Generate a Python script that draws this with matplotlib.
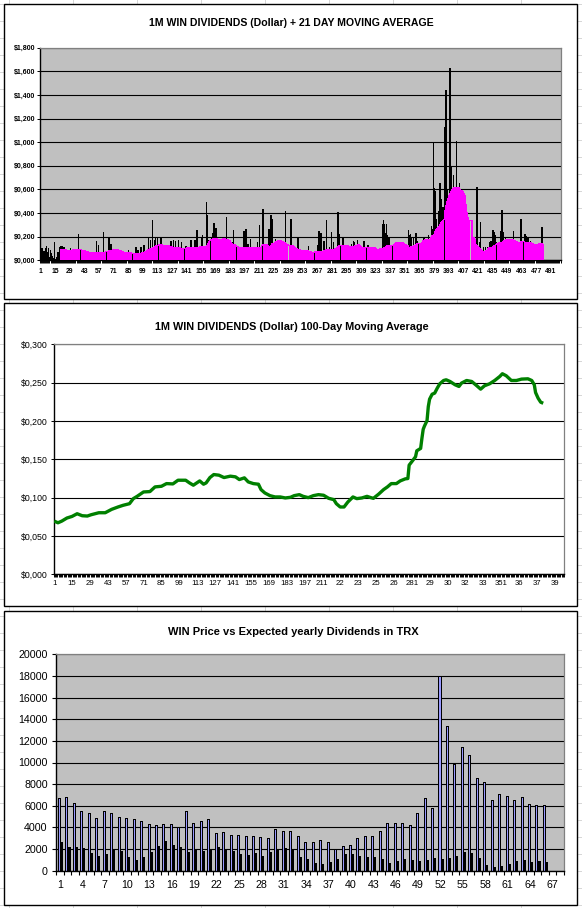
import numpy as np
import matplotlib
matplotlib.use("Agg")
import matplotlib.pyplot as plt
from matplotlib.ticker import FuncFormatter
from matplotlib.lines import Line2D
from matplotlib.patches import Rectangle

plt.rcParams['font.family'] = ['Liberation Sans', 'DejaVu Sans']

# ------------------------------------------------------------------ data
# Panel 1: daily dividend per 1M WIN (USD), day 1 .. 483
daily_div = [
    .09, .10, .05, .08, .10, .12, .07, .10, .03, .09,
    .06, .04, .02, .155, .01, .03, .07, .04, .11, .12,
    .125, .07, .115, .06, .08, .07, .09, .05, .10, .07,
    .06, .08, .07, .09, .06, .08, .226, .07, .06, .07,
    .05, .06, .07, .05, .06, .05, .06, .04, .05, .06,
    .05, .04, .06, .16, .05, .127, .04, .05, .06, .04,
    .237, .05, .06, .07, .05, .192, .13, .14, .07, .06,
    .07, .08, .07, .06, .07, .08, .06, .05, .07, .06,
    .05, .06, .04, .05, .085, .05, .04, .05, .04, .05,
    .04, .11, .04, .09, .04, .05, .11, .05, .06, .127,
    .06, .07, .08, .19, .08, .17, .09, .345, .10, .17,
    .19, .11, .19, .12, .10, .19, .11, .12, .10, .11,
    .10, .11, .09, .10, .10, .16, .09, .17, .10, .16,
    .09, .10, .175, .09, .08, .155, .09, .08, .09, .12,
    .09, .08, .09, .10, .17, .09, .10, .08, .175, .10,
    .254, .09, .10, .10, .20, .218, .09, .10, .09, .49,
    .384, .175, .14, .15, .20, .23, .316, .25, .277, .15,
    .16, .15, .14, .16, .15, .17, .15, .14, .367, .16,
    .15, .14, .13, .12, .155, .254, .12, .11, .10, .09,
    .10, .09, .10, .11, .10, .246, .155, .263, .10, .14,
    .10, .178, .10, .09, .10, .09, .10, .09, .155, .09,
    .297, .09, .08, .438, .11, .12, .11, .133, .11, .263,
    .10, .381, .353, .12, .13, .184, .13, .14, .15, .14,
    .15, .14, .13, .14, .13, .415, .11, .12, .11, .10,
    .347, .11, .10, .10, .09, .08, .107, .19, .08, .07,
    .07, .06, .07, .06, .07, .06, .07, .119, .06, .06,
    .05, .06, .05, .06, .06, .06, .127, .246, .06, .234,
    .06, .07, .164, .07, .339, .07, .08, .113, .08, .24,
    .08, .155, .08, .09, .09, .407, .226, .11, .10, .11,
    .198, .11, .10, .11, .10, .11, .10, .10, .136, .10,
    .164, .155, .10, .11, .17, .11, .12, .10, .10, .09,
    .164, .09, .10, .09, .127, .10, .09, .10, .09, .10,
    .09, .08, .09, .08, .07, .10, .08, .09, .31, .345,
    .31, .23, .308, .21, .19, .12, .11, .12, .11, .12,
    .12, .13, .14, .13, .14, .13, .14, .13, .13, .12,
    .11, .12, .11, .26, .21, .223, .195, .11, .195, .12,
    .232, .167, .12, .13, .12, .13, .12, .14, .195, .15,
    .16, .15, .21, .16, .17, .294, .266, .99, .61, .59,
    .35, .27, .42, .653, .52, .435, .45, .30, 1.127, 1.438,
    .60, .40, .45, 1.63, .80, .50, .723, .55, .535, 1.006,
    .60, .55, .658, .50, .576, .52, .548, .50, .44, .38,
    .33, .30, .31, .30, .32, .17, .16, .15, .12, .619,
    .10, .153, .322, .09, .08, .11, .07, .11, .07, .11,
    .09, .153, .167, .09, .26, .243, .21, .153, .12, .12,
    .13, .14, .25, .427, .237, .14, .195, .15, .16, .15,
    .16, .17, .16, .15, .25, .15, .14, .167, .14, .13,
    .14, .35, .14, .153, .14, .223, .209, .13, .195, .13,
    .167, .13, .12, .12, .12, .138, .12, .12, .11, .12,
    .12, .285, .12,
]

# Panel 1: 21-day moving average, day 21 .. 483
ma21_first_day = 21
ma21 = [
    .085, .086, .085, .084, .083, .081, .079, .079, .080, .081,
    .082, .082, .083, .083, .084, .085, .087, .086, .084, .080,
    .078, .076, .075, .073, .071, .068, .065, .063, .062, .061,
    .060, .060, .060, .060, .060, .060, .059, .059, .059, .059,
    .060, .062, .066, .070, .072, .074, .076, .078, .080, .082,
    .083, .084, .085, .085, .084, .082, .079, .075, .071, .068,
    .066, .064, .063, .062, .061, .060, .058, .056, .054, .052,
    .051, .051, .051, .051, .051, .052, .053, .055, .058, .062,
    .066, .070, .074, .078, .083, .088, .093, .098, .102, .106,
    .112, .118, .122, .125, .127, .127, .126, .125, .124, .122,
    .120, .119, .118, .117, .115, .112, .109, .106, .104, .103,
    .102, .101, .100, .100, .099, .098, .097, .096, .096, .097,
    .098, .100, .102, .104, .105, .106, .107, .107, .107, .108,
    .108, .108, .108, .108, .109, .110, .110, .110, .111, .112,
    .125, .140, .152, .162, .168, .172, .178, .182, .183, .180,
    .176, .172, .170, .170, .172, .175, .177, .177, .176, .175,
    .172, .160, .148, .138, .133, .132, .131, .125, .115, .110,
    .106, .104, .104, .106, .108, .108, .108, .107, .107, .107,
    .107, .108, .108, .107, .106, .105, .104, .103, .102, .100,
    .100, .100, .101, .120, .127, .128, .127, .126, .122, .115,
    .112, .113, .125, .135, .140, .142, .148, .155, .158, .160,
    .160, .158, .152, .150, .148, .135, .128, .127, .125, .123,
    .121, .120, .118, .112, .104, .097, .093, .090, .087, .083,
    .080, .078, .077, .076, .076, .076, .075, .074, .072, .068,
    .064, .062, .062, .065, .068, .070, .070, .071, .071, .072,
    .072, .073, .074, .076, .080, .083, .085, .085, .085, .086,
    .087, .088, .090, .093, .096, .100, .110, .119, .120, .120,
    .119, .119, .119, .118, .118, .117, .116, .115, .112, .110,
    .110, .110, .112, .118, .125, .127, .124, .115, .108, .105,
    .104, .104, .104, .105, .106, .107, .107, .107, .107, .106,
    .105, .100, .094, .088, .085, .085, .088, .092, .096, .098,
    .100, .108, .116, .122, .124, .125, .124, .124, .124, .125,
    .130, .140, .146, .147, .148, .148, .147, .146, .145, .138,
    .132, .128, .118, .104, .100, .105, .112, .116, .116, .118,
    .124, .130, .134, .136, .137, .138, .140, .150, .160, .166,
    .168, .170, .172, .174, .175, .176, .190, .205, .215, .240,
    .255, .265, .275, .285, .300, .318, .325, .330, .340, .420,
    .460, .490, .520, .545, .560, .580, .596, .605, .610, .612,
    .612, .608, .598, .590, .585, .575, .560, .545, .470, .400,
    .360, .335, .330, .330, .330, .190, .185, .175, .130, .122,
    .112, .100, .098, .090, .080, .074, .072, .074, .078, .082,
    .095, .100, .102, .104, .108, .112, .118, .125, .130, .135,
    .140, .145, .147, .148, .150, .155, .160, .165, .168, .170,
    .170, .172, .172, .170, .165, .160, .157, .155, .150, .145,
    .144, .150, .152, .153, .152, .148, .145, .144, .145, .144,
    .144, .143, .140, .136, .132, .130, .130, .132, .133, .134,
    .134, .134, .133,
]
p1_n_days = 500
p1_xlabels = ['1', '15', '29', '43', '57', '71', '85', '99', '113', '127',
              '141', '155', '169', '183', '197', '211', '225', '239', '253',
              '267', '281', '295', '309', '323', '337', '351', '365', '379',
              '393', '407', '421', '435', '449', '463', '477', '491']

# Panel 2: 100-day moving average (USD per 1M WIN)
ma100_day = [1, 4, 7, 11, 15, 19, 23, 27, 30, 36, 41, 46, 51, 55, 60, 63, 66,
             71, 76, 80, 85, 89, 94, 98, 104, 107, 110, 115, 118, 120, 123,
             126, 130, 134, 139, 143, 146, 150, 153, 157, 161, 163, 166, 170,
             174, 178, 182, 186, 189, 193, 196, 200, 204, 208, 212, 216, 220,
             222, 225, 228, 231, 235, 238, 242, 246, 249, 251, 255, 259, 262,
             265, 269, 272, 276, 278, 279, 281, 284, 285, 288, 289, 290, 291,
             293, 294, 295, 297, 299, 301, 303, 306, 308, 311, 315, 318, 320,
             324, 328, 332, 335, 338, 342, 346, 350, 352, 355, 359, 363, 367,
             372, 375, 377, 378, 380, 382, 384]
ma100_val = [.0694, .0672, .0694, .0734, .0755, .0790, .0764, .0760, .0777,
             .0803, .0803, .0847, .0878, .0900, .0921, .0987, .1017, .1074,
             .1079, .1140, .1148, .1183, .1179, .1227, .1227, .1192, .1162,
             .1218, .1175, .1192, .1262, .1301, .1293, .1262, .1280, .1271,
             .1236, .1258, .1205, .1183, .1175, .1105, .1061, .1026, .1009,
             .1009, .0996, .1004, .1026, .1039, .1017, .1000, .1026, .1039,
             .1031, .0991, .0974, .0921, .0878, .0878, .0943, .1009, .0987,
             .0996, .1017, .1000, .0991, .1044, .1105, .1140, .1183, .1183,
             .1218, .1245, .1249, .1424, .1467, .1533, .1611, .1642, .1773,
             .1891, .1934, .2004, .2188, .2284, .2349, .2363, .2428, .2485,
             .2528, .2537, .2515, .2472, .2450, .2494, .2528, .2515, .2459,
             .2415, .2459, .2485, .2528, .2581, .2616, .2590, .2528, .2528,
             .2546, .2550, .2528, .2472, .2371, .2297, .2245, .2231]
p2_n_days = 400
p2_xlabels = ['1', '15', '29', '43', '57', '71', '85', '99', '113', '127',
              '141', '155', '169', '183', '197', '211', '22', '23', '25', '26',
              '281', '29', '30', '32', '33', '351', '36', '37', '39']

# Panel 3: WIN price vs expected yearly dividends (TRX)
win_price = [6720, 6810, 6220, 5530, 5340, 4840, 5530, 5340, 4970, 4875,
             4750, 4590, 4310, 4220, 4310, 4310, 4000, 5530, 4440, 4590,
             4780, 3470, 3560, 3280, 3280, 3190, 3190, 3090, 3060, 3840,
             3660, 3660, 3250, 2625, 2625, 2810, 2625, 2000, 2250, 2400,
             3000, 3250, 3190, 3660, 4400, 4400, 4380, 4230, 5340, 6730,
             5800, 18000, 13400, 9850, 11420, 10680, 8580, 8180, 6540, 7100,
             6910, 6540, 6820, 6170, 6050, 6050]
yearly_div = [2625, 2220, 2220, 2125, 1590, 1400, 1500, 1900, 1780, 1310,
              1030, 1220, 1690, 2250, 2720, 2375, 2160, 1690, 2030, 1810,
              1875, 2160, 2030, 1810, 1500, 1470, 1625, 1400, 1690, 2030,
              2125, 2030, 1220, 1125, 750, 660, 840, 1125, 1500, 1500,
              1400, 1310, 1220, 1125, 750, 940, 1050, 960, 870, 960,
              1170, 1050, 1140, 1360, 1730, 1640, 1140, 525, 310, 430,
              617, 895, 990, 800, 895, 830]
p3_n_cats = 68
p3_xlabels = ['1', '4', '7', '10', '13', '16', '19', '22', '25', '28', '31',
              '34', '37', '40', '43', '46', '49', '52', '55', '58', '61', '64',
              '67']

titles = ['1M WIN DIVIDENDS (Dollar) + 21 DAY MOVING AVERAGE',
          '1M WIN DIVIDENDS (Dollar) 100-Day Moving Average',
          'WIN Price vs Expected yearly Dividends in TRX']

# ------------------------------------------------------------------ layout
W, H = 582, 908
fig = plt.figure(figsize=(W / 100, H / 100), dpi=100)
fig.patch.set_facecolor('white')


def box(x0, y0, x1, y1):
    return [x0 / W, 1 - y1 / H, (x1 - x0) / W, (y1 - y0) / H]


# faint spreadsheet grid behind the chart objects
for gx in np.arange(9, W, 64):
    fig.add_artist(Line2D([gx / W] * 2, [0, 1], color='#d6d6d6', lw=0.7,
                          zorder=0))
for gy in np.arange(3.7, H, 17):
    fig.add_artist(Line2D([0, 1], [1 - gy / H] * 2, color='#d6d6d6', lw=0.7,
                          zorder=0))

for (x0, y0, x1, y1) in [(4, 4, 577, 299), (4, 303, 577, 606),
                         (4, 611, 577, 905)]:
    fig.add_artist(Rectangle((x0 / W, 1 - y1 / H), (x1 - x0) / W,
                             (y1 - y0) / H, transform=fig.transFigure,
                             facecolor='white', edgecolor='black', lw=1.0,
                             zorder=0.5))


def dollar(v, pos):
    return ('$%.3f' % v).replace('.', ',')


def style_spines(ax, bottom_lw=1.0):
    ax.spines['left'].set_color('black')
    ax.spines['left'].set_linewidth(1.0)
    ax.spines['bottom'].set_color('black')
    ax.spines['bottom'].set_linewidth(bottom_lw)
    for s in ('top', 'right'):
        ax.spines[s].set_color('#808080')
        ax.spines[s].set_linewidth(0.9)


# ---------------- panel 1
ax1 = fig.add_axes(box(40.1, 47.7, 560.5, 260.3))
ax1.set_zorder(2)
ax1.set_facecolor('#C0C0C0')
days = np.arange(1, len(daily_div) + 1)
ma_days = np.arange(ma21_first_day, ma21_first_day + len(ma21))
ax1.bar(days, daily_div, width=0.5, color='black', edgecolor='black',
        lw=0.5, zorder=2, antialiased=False)
ax1.bar(ma_days, ma21, width=1.0, color='#FF00FF', edgecolor='#FF00FF',
        lw=0.3, zorder=3, antialiased=False)
ma_arr = np.asarray(ma21)
seam_idx = np.arange(18, len(ma21), 25)
seam_cols = ['black'] * len(seam_idx)
seam_cols[8] = '#C0C0C0'
seam_cols[15] = '#C0C0C0'
ax1.vlines(ma_days[seam_idx], 0, ma_arr[seam_idx], colors=seam_cols, lw=0.7,
           zorder=4, antialiased=False)
ax1.set_xlim(0.5, p1_n_days + 0.5)
ax1.set_ylim(0, 1.8)
ax1.set_yticks(np.arange(0, 1.81, 0.2))
ax1.yaxis.set_major_formatter(FuncFormatter(dollar))
ax1.grid(axis='y', color='black', lw=0.8)
ax1.set_axisbelow(True)
p1_pos = 1 + 14 * np.arange(len(p1_xlabels))
ax1.set_xticks(p1_pos)
ax1.set_xticklabels(p1_xlabels)
ax1.set_xticks(np.arange(0.5, p1_n_days + 1, 1), minor=True)
ax1.tick_params(axis='x', which='major', length=0, pad=5.2, labelsize=4.9)
ax1.tick_params(axis='x', which='minor', length=2.0, width=0.7,
                color='black')
ax1.tick_params(axis='y', which='major', length=2.0, width=0.7, pad=1.5,
                labelsize=5.0)
for t in ax1.get_xticklabels() + ax1.get_yticklabels():
    t.set_fontweight('bold')
style_spines(ax1)

# ---------------- panel 2
ax2 = fig.add_axes(box(53.5, 344.3, 564.3, 574.3))
ax2.set_zorder(2)
ax2.set_facecolor('white')
ax2.plot(ma100_day, ma100_val, color='#008000', lw=2.4, zorder=3,
         solid_capstyle='butt')
ax2.set_xlim(0.5, p2_n_days + 0.5)
ax2.set_ylim(0, 0.3)
ax2.set_yticks(np.arange(0, 0.301, 0.05))
ax2.yaxis.set_major_formatter(FuncFormatter(dollar))
ax2.grid(axis='y', color='black', lw=0.8)
ax2.set_axisbelow(True)
p2_pos = 1 + 14 * np.arange(len(p2_xlabels))
ax2.set_xticks(p2_pos)
ax2.set_xticklabels(p2_xlabels)
ax2.set_xticks(np.arange(0.5, p2_n_days + 1, 1), minor=True)
ax2.tick_params(axis='x', which='major', length=0, pad=4.4, labelsize=5.6)
ax2.tick_params(axis='x', which='minor', length=2.0, width=0.7,
                color='black')
ax2.tick_params(axis='y', which='major', length=2.2, width=0.7, pad=2.0,
                labelsize=6.3)
style_spines(ax2)

# ---------------- panel 3
ax3 = fig.add_axes(box(56.3, 654.3, 563.6, 870.7))
ax3.set_zorder(2)
ax3.set_facecolor('#C0C0C0')
cats = np.arange(1, len(win_price) + 1)
bw = 0.27
ax3.bar(cats - bw / 2, win_price, width=bw, color='#9999FF',
        edgecolor='black', lw=0.55, zorder=2, antialiased=False)
ax3.bar(cats + bw / 2, yearly_div, width=bw, color='black',
        edgecolor='black', lw=0.5, zorder=2, antialiased=False)
ax3.set_xlim(0.5, p3_n_cats + 0.5)
ax3.set_ylim(0, 20000)
ax3.set_yticks(np.arange(0, 20001, 2000))
ax3.grid(axis='y', color='black', lw=0.8)
ax3.set_axisbelow(True)
p3_pos = 1 + 3 * np.arange(len(p3_xlabels))
ax3.set_xticks(p3_pos)
ax3.set_xticklabels(p3_xlabels)
ax3.set_xticks(np.arange(0.5, p3_n_cats + 1, 1), minor=True)
ax3.tick_params(axis='x', which='major', length=0, pad=6.6, labelsize=7.7)
ax3.tick_params(axis='x', which='minor', length=2.7, width=0.8,
                color='black')
ax3.tick_params(axis='y', which='major', length=2.7, width=0.8, pad=3.5,
                labelsize=7.7)
style_spines(ax3)

# ---------------- titles
fig.text(291 / W, 1 - 23.3 / H, titles[0], ha='center', va='center',
         fontsize=7.6, fontweight='bold', zorder=5)
fig.text(292 / W, 1 - 327 / H, titles[1], ha='center', va='center',
         fontsize=7.8, fontweight='bold', zorder=5)
fig.text(293 / W, 1 - 632 / H, titles[2], ha='center', va='center',
         fontsize=8.0, fontweight='bold', zorder=5)

fig.savefig('out.png', dpi=100, facecolor='white')
